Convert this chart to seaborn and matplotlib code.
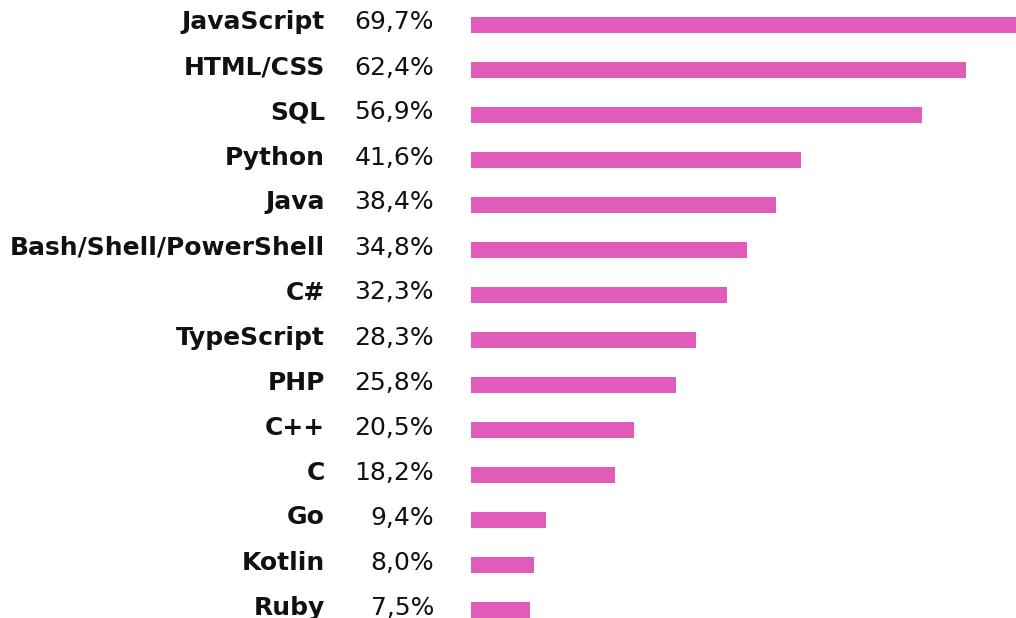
import matplotlib
matplotlib.use("Agg")
import matplotlib.pyplot as plt
import matplotlib.transforms as mtransforms
import seaborn as sns
import pandas as pd

languages = ["JavaScript", "HTML/CSS", "SQL", "Python", "Java",
             "Bash/Shell/PowerShell", "C#", "TypeScript", "PHP", "C++",
             "C", "Go", "Kotlin", "Ruby"]
shares = [69.7, 62.4, 56.9, 41.6, 38.4, 34.8, 32.3, 28.3, 25.8, 20.5,
          18.2, 9.4, 8.0, 7.5]
share_labels = ["69,7%", "62,4%", "56,9%", "41,6%", "38,4%", "34,8%", "32,3%",
                "28,3%", "25,8%", "20,5%", "18,2%", "9,4%", "8,0%", "7,5%"]

df = pd.DataFrame({"language": languages, "share": shares})

sns.set_style("white")
plt.rcParams["font.family"] = ["DejaVu Sans"]

fig = plt.figure(figsize=(10.16, 6.18), dpi=100)
ax = fig.add_axes([471 / 1016, 0, 545 / 1016, 1])

sns.barplot(data=df, x="share", y="language", orient="h", color="#e15cba",
            saturation=1, width=0.36, linewidth=0, ax=ax)

# longest bar runs past the right edge, as in the original
ax.set_xlim(0, 68.7)
ax.set_ylim(593 / 45, -25 / 45)
ax.axis("off")

trans = mtransforms.blended_transform_factory(fig.transFigure, ax.transData)
for i, (lang, lab) in enumerate(zip(languages, share_labels)):
    ax.text(325 / 1016, i + 0.1, lang, transform=trans, ha="right", va="baseline",
            fontsize=18, fontweight="bold", color="#111111")
    ax.text(434 / 1016, i + 0.1, lab, transform=trans, ha="right", va="baseline",
            fontsize=18, color="#111111")

fig.savefig("out.png", dpi=100)
